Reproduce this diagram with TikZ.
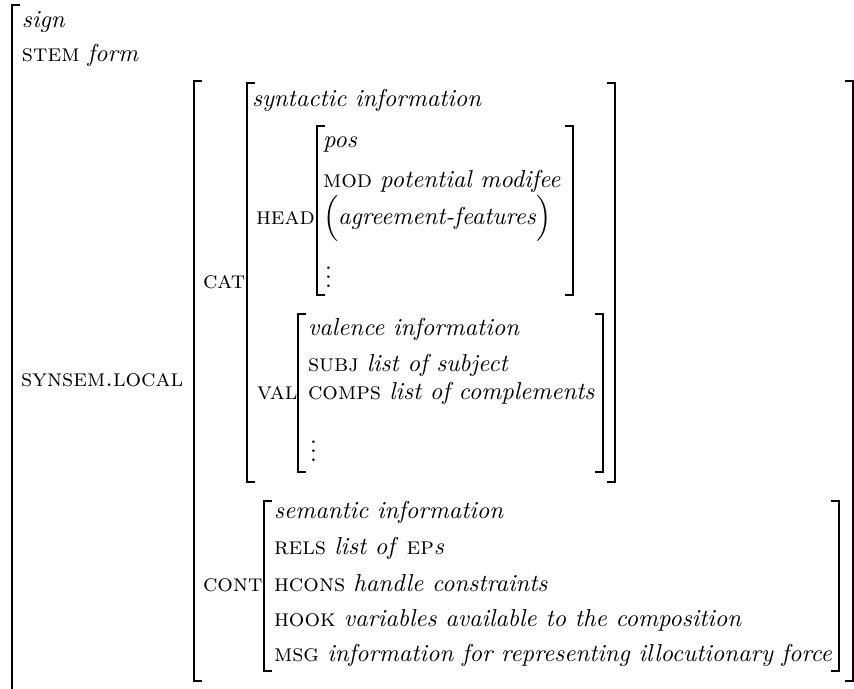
\documentclass[tikz,border=0pt]{standalone}
\usepackage{amsmath}
\tikzset{
  brk/.style={line width=0.85pt, line cap=butt},
  feat/.style={anchor=base west, inner sep=0pt, outer sep=0pt,
    font=\fontsize{10.5}{12.6}\selectfont}
}
% left and right square brackets: x, top y, bottom y
\newcommand{\lbrk}[3]{\draw[brk] (#1+8,#2) -- (#1,#2) -- (#1,#3) -- (#1+8,#3);}
\newcommand{\rbrk}[3]{\draw[brk] (#1-8,#2) -- (#1,#2) -- (#1,#3) -- (#1-8,#3);}
\begin{document}
\begin{tikzpicture}[x=0.4292pt, y=-0.4292pt]
\clip (0,0) rectangle (854,689);
\fill[white] (0,0) rectangle (854,689);

% outermost sign
\draw[brk] (20,5) -- (12,5) -- (12,700);
\node[feat] (sign) at (22,28) {\textit{sign}};
\node[feat] (stem) at (22,62) {\textsc{stem} \textit{form}};

% synsem.local
\node[feat] (synsem) at (21,387) {\textsc{synsem.local}};
\lbrk{194}{81}{681}
\rbrk{853}{81}{681}

% cat
\node[feat] (cat) at (203,289) {\textsc{cat}};
\lbrk{247}{83}{482}
\rbrk{615}{83}{482}
\node[feat] (synt) at (252,107) {\textit{syntactic information}};

% head
\node[feat] (head) at (256,225) {\textsc{head}};
\lbrk{317}{126}{295}
\rbrk{573}{126}{295}
\node[feat] (pos) at (323,148) {\textit{pos}};
\node[feat] (mod) at (323,188) {\textsc{mod} \textit{potential modifee}};
\node[feat] (agr) at (323,225) {$\Big($\textit{agreement-features}$\Big)$};
\node[feat] (hdots) at (325,288) {$\vdots$};

% val
\node[feat] (val) at (257,400) {\textsc{val}};
\lbrk{298}{314}{472}
\rbrk{603}{314}{472}
\node[feat] (valinfo) at (308,336) {\textit{valence information}};
\node[feat] (subj) at (308,372) {\textsc{subj} \textit{list of subject}};
\node[feat] (comps) at (308,400) {\textsc{comps} \textit{list of complements}};
\node[feat] (vdots) at (310,462) {$\vdots$};

% cont
\node[feat] (cont) at (203,592) {\textsc{cont}};
\lbrk{264}{501}{671}
\rbrk{839}{501}{671}
\node[feat] (sem) at (274,519) {\textit{semantic information}};
\node[feat] (rels) at (274,555) {\textsc{rels} \textit{list of} \textsc{ep}\textit{s}};
\node[feat] (hcons) at (274,592) {\textsc{hcons} \textit{handle constraints}};
\node[feat] (hook) at (274,627) {\textsc{hook} \textit{variables available to the composition}};
\node[feat] (msg) at (274,662) {\textsc{msg} \textit{information for representing illocutionary force}};
\end{tikzpicture}
\end{document}
